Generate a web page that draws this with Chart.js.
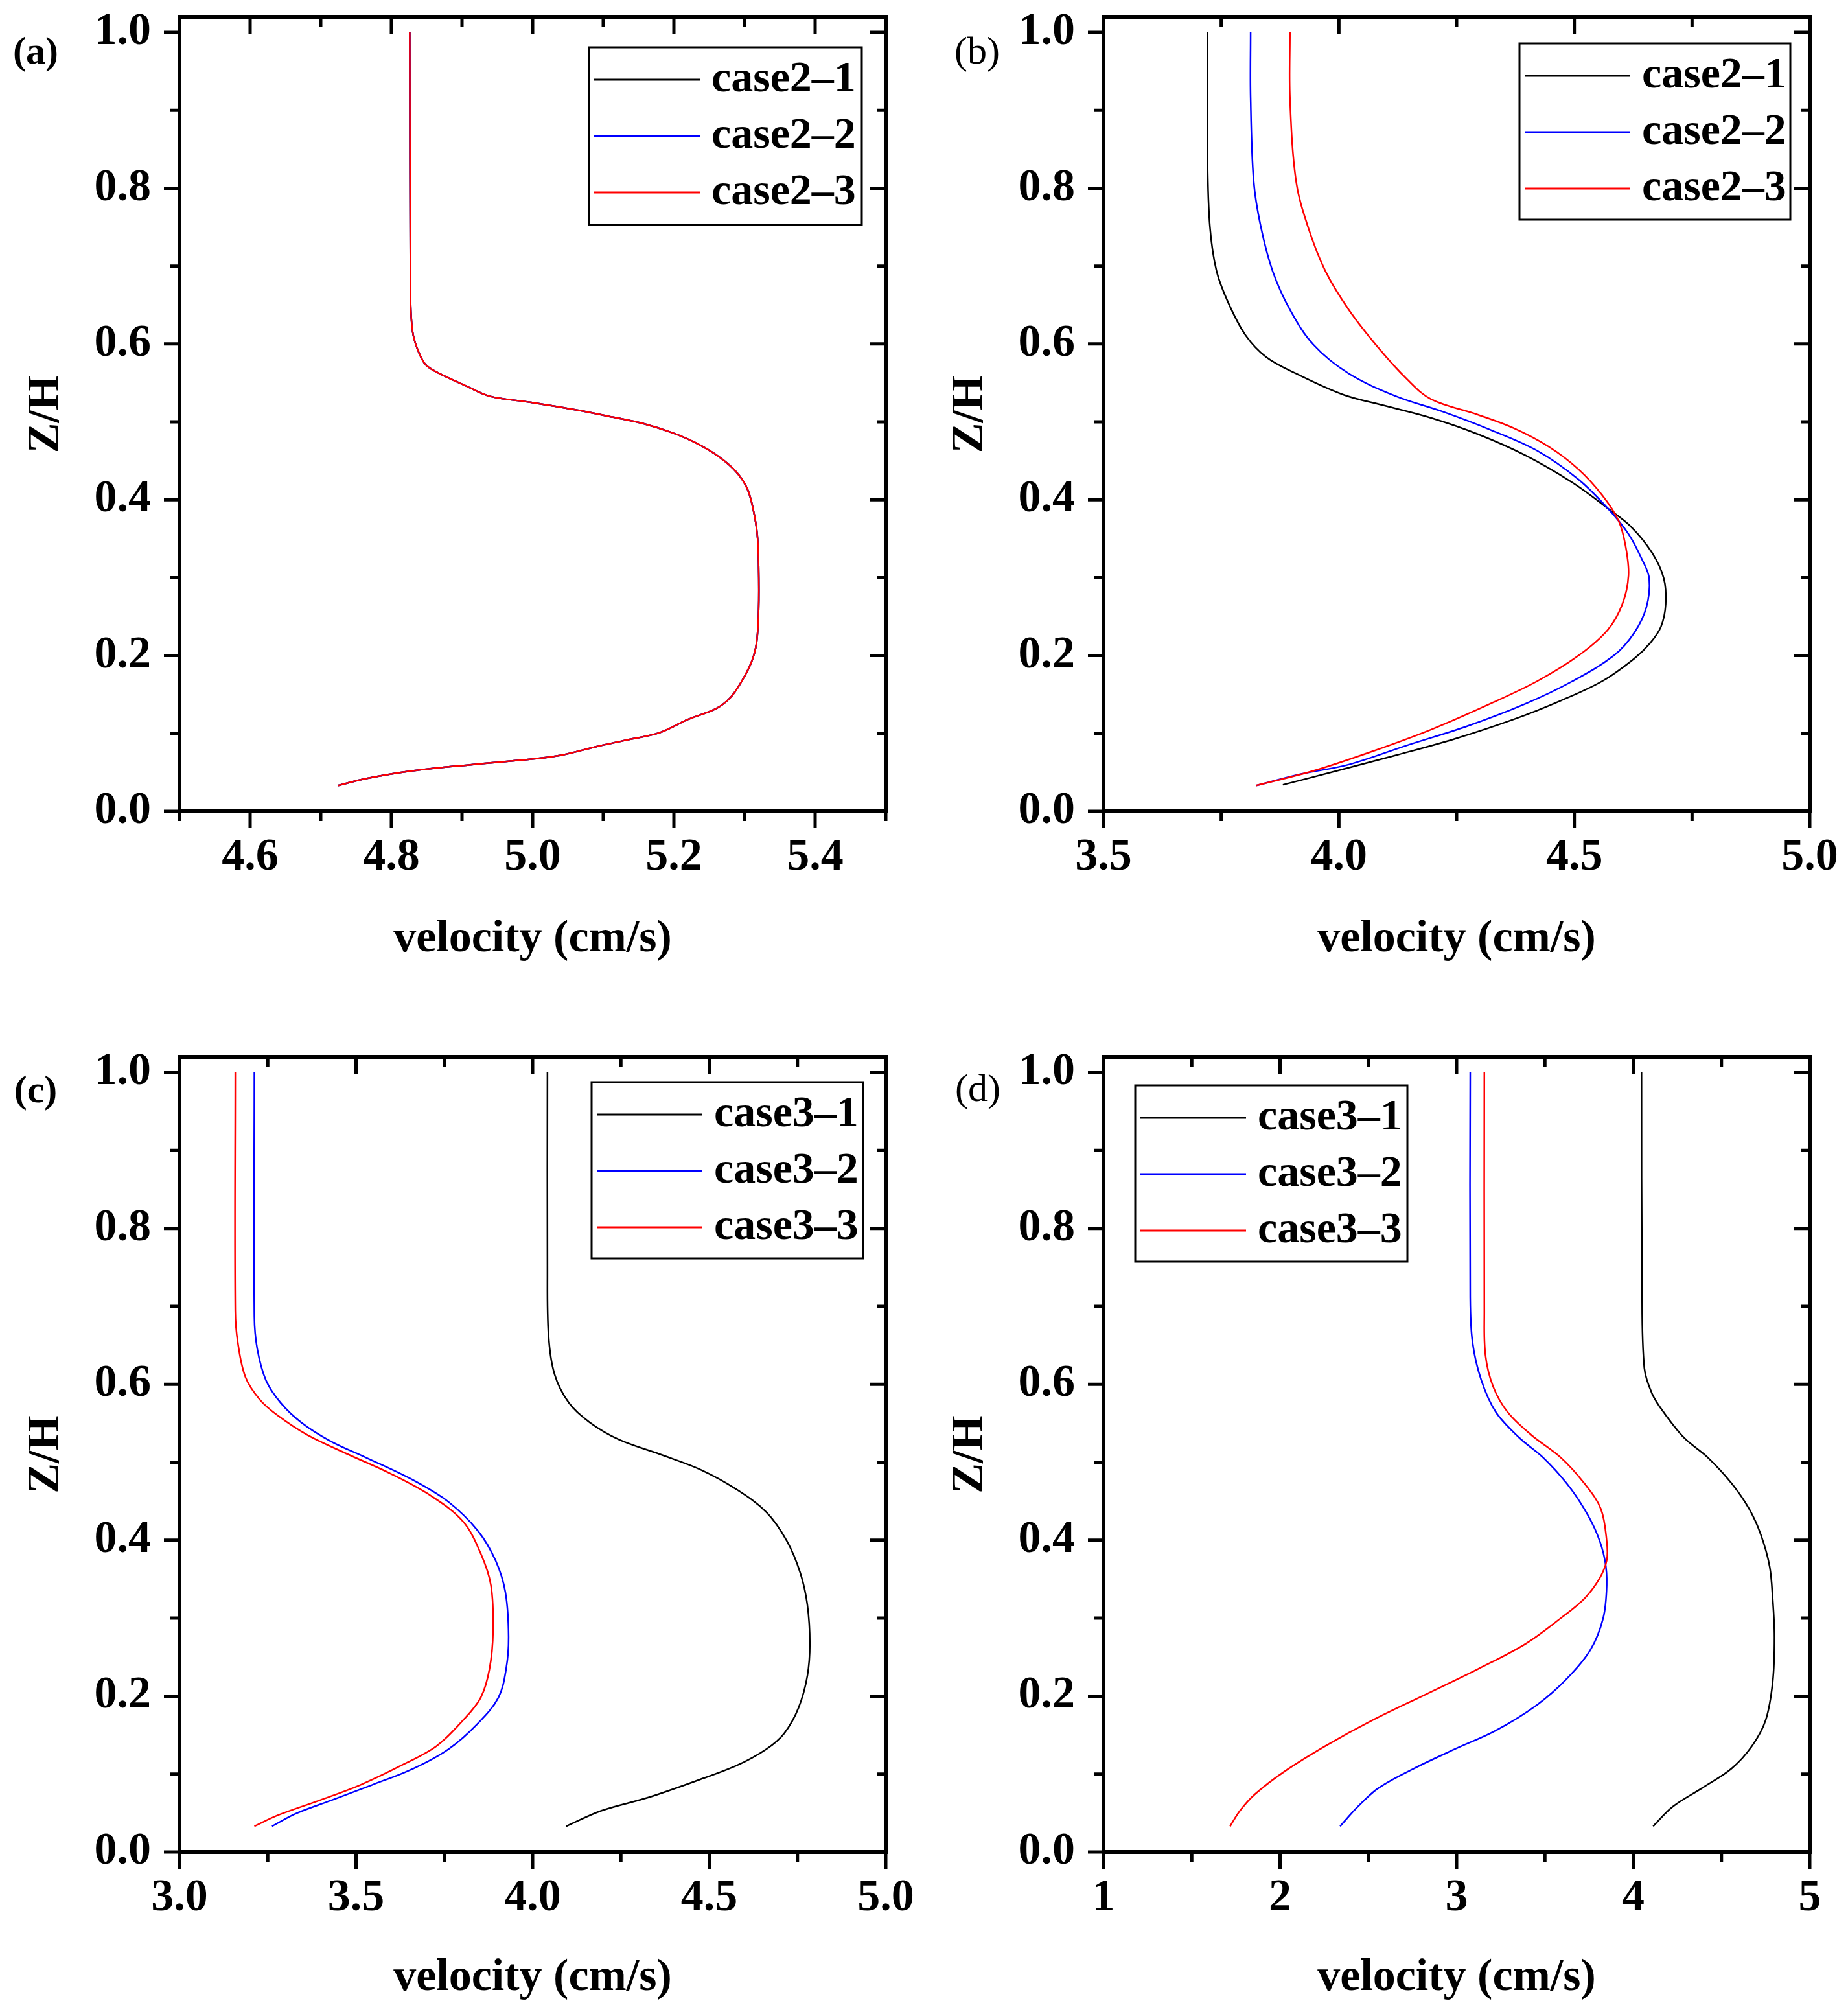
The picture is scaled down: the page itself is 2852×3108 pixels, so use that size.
<!DOCTYPE html>
<html>
<head>
<meta charset="utf-8">
<script src="https://cdn.jsdelivr.net/npm/chart.js@4.4.1/dist/chart.umd.min.js"></script>
<style>
  body { margin: 0; background: #fff; width: 2852px; height: 3108px; position: relative; overflow: hidden; }
  canvas { position: absolute; }
</style>
</head>
<body>
<canvas id="pa" width="1426" height="1554" style="left:0;top:0"></canvas>
<canvas id="pb" width="1426" height="1554" style="left:1426px;top:0"></canvas>
<canvas id="pc" width="1426" height="1554" style="left:0;top:1554px"></canvas>
<canvas id="pd" width="1426" height="1554" style="left:1426px;top:1554px"></canvas>
<script>
// panel (a): the three cases coincide
const aZ = [0.033, 0.042, 0.052, 0.060, 0.067, 0.072, 0.083, 0.091, 0.101, 0.118, 0.132, 0.146, 0.167, 0.192, 0.216, 0.258, 0.315, 0.356, 0.389, 0.414, 0.435, 0.455, 0.473, 0.486, 0.498, 0.506, 0.515, 0.525, 0.533, 0.546, 0.564, 0.574, 0.591, 0.611, 0.636, 0.669, 1.0];
const aV = [4.724, 4.764, 4.83, 4.914, 4.998, 5.04, 5.09, 5.13, 5.18, 5.22, 5.26, 5.28, 5.296, 5.31, 5.317, 5.32, 5.32, 5.318, 5.312, 5.304, 5.289, 5.264, 5.231, 5.198, 5.156, 5.114, 5.064, 4.998, 4.939, 4.906, 4.864, 4.848, 4.838, 4.831, 4.828, 4.827, 4.826];

// panel (b)
const b1Z = [0.034, 0.052, 0.072, 0.093, 0.118, 0.142, 0.167, 0.196, 0.216, 0.237, 0.266, 0.299, 0.332, 0.365, 0.389, 0.422, 0.457, 0.484, 0.505, 0.521, 0.535, 0.562, 0.583, 0.611, 0.653, 0.694, 0.751, 0.834, 1.0];
const b1V = [3.881, 3.996, 4.121, 4.246, 4.371, 4.471, 4.559, 4.627, 4.661, 4.684, 4.694, 4.69, 4.665, 4.621, 4.571, 4.496, 4.396, 4.296, 4.196, 4.096, 4.009, 3.909, 3.846, 3.802, 3.765, 3.74, 3.726, 3.721, 3.721];
const b2Z = [0.033, 0.048, 0.060, 0.085, 0.109, 0.138, 0.167, 0.200, 0.229, 0.262, 0.299, 0.323, 0.356, 0.389, 0.426, 0.463, 0.490, 0.513, 0.533, 0.562, 0.599, 0.644, 0.694, 0.751, 0.809, 0.916, 1.0];
const b2V = [3.824, 3.921, 4.021, 4.146, 4.271, 4.396, 4.496, 4.584, 4.627, 4.653, 4.659, 4.644, 4.615, 4.571, 4.509, 4.421, 4.321, 4.221, 4.121, 4.021, 3.946, 3.896, 3.859, 3.834, 3.819, 3.8125, 3.8125];
const b3Z = [0.033, 0.052, 0.077, 0.105, 0.138, 0.167, 0.200, 0.233, 0.266, 0.303, 0.340, 0.373, 0.406, 0.439, 0.468, 0.492, 0.509, 0.529, 0.554, 0.595, 0.644, 0.694, 0.751, 0.809, 0.916, 1.0];
const b3V = [3.824, 3.946, 4.071, 4.196, 4.321, 4.421, 4.509, 4.571, 4.602, 4.615, 4.609, 4.594, 4.559, 4.509, 4.446, 4.371, 4.296, 4.196, 4.146, 4.084, 4.021, 3.971, 3.934, 3.909, 3.896, 3.896];

// panel (c)
const c1Z = [0.033, 0.053, 0.070, 0.091, 0.111, 0.132, 0.152, 0.185, 0.226, 0.267, 0.317, 0.358, 0.399, 0.436, 0.465, 0.490, 0.510, 0.529, 0.551, 0.576, 0.613, 0.663, 0.753, 1.0];
const c1V = [4.095, 4.195, 4.328, 4.462, 4.578, 4.662, 4.712, 4.753, 4.778, 4.785, 4.778, 4.758, 4.72, 4.662, 4.578, 4.478, 4.362, 4.245, 4.162, 4.103, 4.062, 4.045, 4.042, 4.042];
const c2Z = [0.033, 0.049, 0.066, 0.086, 0.107, 0.132, 0.165, 0.198, 0.235, 0.276, 0.333, 0.374, 0.412, 0.449, 0.477, 0.506, 0.527, 0.551, 0.576, 0.605, 0.646, 0.687, 1.0];
const c2V = [3.262, 3.328, 3.428, 3.545, 3.662, 3.762, 3.845, 3.903, 3.925, 3.932, 3.923, 3.895, 3.845, 3.762, 3.662, 3.528, 3.428, 3.345, 3.287, 3.245, 3.22, 3.212, 3.212];
const c3Z = [0.033, 0.047, 0.066, 0.086, 0.111, 0.136, 0.169, 0.198, 0.235, 0.284, 0.342, 0.383, 0.424, 0.457, 0.486, 0.510, 0.535, 0.560, 0.580, 0.609, 0.654, 0.695, 1.0];
const c3V = [3.212, 3.278, 3.395, 3.512, 3.628, 3.728, 3.803, 3.853, 3.878, 3.888, 3.882, 3.853, 3.803, 3.712, 3.595, 3.478, 3.362, 3.278, 3.228, 3.187, 3.165, 3.158, 3.158];

// panel (d)
const d1Z = [0.033, 0.058, 0.082, 0.107, 0.136, 0.169, 0.218, 0.276, 0.325, 0.366, 0.407, 0.440, 0.473, 0.506, 0.531, 0.564, 0.588, 0.621, 0.728, 1.0];
const d1V = [4.113, 4.223, 4.39, 4.557, 4.673, 4.75, 4.79, 4.8, 4.79, 4.773, 4.723, 4.657, 4.557, 4.423, 4.29, 4.173, 4.107, 4.063, 4.05, 4.047];
const d2Z = [0.033, 0.058, 0.082, 0.107, 0.132, 0.156, 0.189, 0.222, 0.259, 0.300, 0.342, 0.374, 0.407, 0.440, 0.473, 0.506, 0.531, 0.564, 0.605, 0.654, 0.712, 1.0];
const d2V = [2.34, 2.44, 2.557, 2.757, 2.99, 3.223, 3.457, 3.623, 3.757, 3.83, 3.85, 3.84, 3.797, 3.723, 3.623, 3.49, 3.357, 3.223, 3.14, 3.09, 3.077, 3.077];
const d3Z = [0.033, 0.053, 0.074, 0.103, 0.136, 0.169, 0.202, 0.235, 0.267, 0.300, 0.325, 0.350, 0.374, 0.399, 0.440, 0.473, 0.506, 0.535, 0.564, 0.597, 0.638, 0.695, 1.0];
const d3V = [1.717, 1.773, 1.857, 2.023, 2.257, 2.523, 2.823, 3.123, 3.39, 3.59, 3.723, 3.807, 3.85, 3.85, 3.817, 3.723, 3.59, 3.423, 3.29, 3.207, 3.163, 3.157, 3.157];

// tick labels
const yTicks = [0, 0.2, 0.4, 0.6, 0.8, 1.0];
const aXTicks = [4.6, 4.8, 5.0, 5.2, 5.4];
const bXTicks = [3.5, 4.0, 4.5, 5.0];
const cXTicks = [3.0, 3.5, 4.0, 4.5, 5.0];
const dXTicks = [1, 2, 3, 4, 5];

const serif = "'Liberation Serif', 'Times New Roman', serif";
const colors = ['#000000', '#0000ff', '#ff0000'];

// box frame with ticks outside on bottom/left, inside on top/right
const frameTicks = {
  id: 'frameTicks',
  afterDraw(chart, args, o) {
    const { ctx, chartArea: a, scales: { x, y } } = chart;
    ctx.save();
    ctx.strokeStyle = '#000';
    ctx.lineWidth = 5;
    ctx.beginPath();
    const nx = Math.round((x.max - x.min) / o.xMinor);
    for (let i = 0; i <= nx; i++) {
      const v = x.min + i * o.xMinor;
      const px = x.getPixelForValue(v);
      const len = x.ticks.some(t => Math.abs(t.value - v) < 1e-6) ? 26 : 15;
      ctx.moveTo(px, a.bottom); ctx.lineTo(px, a.bottom + len);
      ctx.moveTo(px, a.top); ctx.lineTo(px, a.top + len);
    }
    const ny = Math.floor((y.max - y.min) / 0.1 + 1e-6);
    for (let i = 0; i <= ny; i++) {
      const v = y.min + i * 0.1;
      const py = y.getPixelForValue(v);
      const len = y.ticks.some(t => Math.abs(t.value - v) < 1e-6) ? 24 : 14;
      ctx.moveTo(a.left, py); ctx.lineTo(a.left - len, py);
      ctx.moveTo(a.right, py); ctx.lineTo(a.right - len, py);
    }
    ctx.stroke();
    ctx.lineWidth = 6;
    ctx.strokeRect(a.left, a.top, a.right - a.left, a.bottom - a.top);
    ctx.restore();
  }
};

const boxLegend = {
  id: 'boxLegend',
  afterDraw(chart, args, o) {
    const ctx = chart.ctx;
    ctx.save();
    ctx.fillStyle = '#fff';
    ctx.fillRect(o.x, o.y, o.w, o.h);
    ctx.strokeStyle = '#000';
    ctx.lineWidth = 3;
    ctx.strokeRect(o.x, o.y, o.w, o.h);
    ctx.font = 'bold 68px ' + serif;
    ctx.textBaseline = 'middle';
    ctx.textAlign = 'left';
    chart.data.datasets.forEach((ds, i) => {
      const cy = o.y + 50 + i * 87;
      ctx.strokeStyle = ds.borderColor;
      ctx.lineWidth = 3;
      ctx.beginPath();
      ctx.moveTo(o.x + 8, cy);
      ctx.lineTo(o.x + 171, cy);
      ctx.stroke();
      ctx.fillStyle = '#000';
      ctx.fillText(ds.label, o.x + 189, cy);
    });
    // panel tag
    ctx.font = (o.tagBold ? 'bold ' : '') + '60px ' + serif;
    ctx.textAlign = 'center';
    ctx.fillText(o.tag, o.tagX, o.tagY);
    ctx.restore();
  }
};

function makePanel(id, p) {
  const top = p.bottomRow ? 77 : 26;
  new Chart(document.getElementById(id), {
    type: 'scatter',
    data: {
      datasets: p.series.map((s, i) => ({
        label: s.label,
        data: s.v.map((v, k) => ({ x: v, y: s.z[k] })),
        showLine: true,
        borderColor: colors[i],
        backgroundColor: colors[i],
        borderWidth: 2.5,
        pointRadius: 0,
        tension: 0.35,
        order: 3 - i
      }))
    },
    options: {
      responsive: false,
      animation: false,
      devicePixelRatio: 1,
      layout: { padding: { left: 0, top: top, right: 59, bottom: 0 } },
      plugins: {
        legend: { display: false },
        tooltip: { enabled: false },
        boxLegend: p.legend,
        frameTicks: { xMinor: p.xMinor }
      },
      scales: {
        x: {
          type: 'linear', min: p.xMin, max: p.xMax,
          grid: { display: false, drawTicks: false },
          border: { display: false },
          afterBuildTicks: s => { s.ticks = p.xTicks.map(v => ({ value: v })); },
          afterFit: s => { s.height = p.bottomRow ? 250 : 302; s.paddingLeft = 0; s.paddingRight = 0; },
          ticks: {
            padding: 30, color: '#000', autoSkip: false, maxRotation: 0,
            font: { family: serif, size: 70, weight: 'bold' },
            callback: v => v.toFixed(p.xDigits)
          },
          title: {
            display: true, text: 'velocity (cm/s)', color: '#000',
            font: { family: serif, size: 70, weight: 'bold' },
            padding: { top: 0, bottom: p.bottomRow ? 13 : 62 }
          }
        },
        y: {
          type: 'linear', min: 0, max: 1.02,
          grid: { display: false, drawTicks: false },
          border: { display: false },
          afterBuildTicks: s => { s.ticks = yTicks.map(v => ({ value: v })); },
          afterFit: s => { s.width = 277; s.paddingTop = 0; s.paddingBottom = 0; },
          ticks: {
            padding: 44, color: '#000', autoSkip: false,
            font: { family: serif, size: 70, weight: 'bold' },
            callback: v => v.toFixed(1)
          },
          title: {
            display: true, text: 'Z/H', color: '#000',
            font: { family: serif, size: 70, weight: 'bold' },
            padding: { top: 30, bottom: 0 }
          }
        }
      }
    },
    plugins: [frameTicks, boxLegend]
  });
}

makePanel('pa', {
  xMin: 4.5, xMax: 5.5, xMinor: 0.1, xTicks: aXTicks, xDigits: 1,
  series: [
    { label: 'case2\u20131', v: aV, z: aZ },
    { label: 'case2\u20132', v: aV, z: aZ },
    { label: 'case2\u20133', v: aV, z: aZ }
  ],
  legend: { x: 909, y: 73, w: 421, h: 274, tag: '(a)', tagBold: true, tagX: 55, tagY: 82 }
});

makePanel('pb', {
  xMin: 3.5, xMax: 5.0, xMinor: 0.25, xTicks: bXTicks, xDigits: 1,
  series: [
    { label: 'case2\u20131', v: b1V, z: b1Z },
    { label: 'case2\u20132', v: b2V, z: b2Z },
    { label: 'case2\u20133', v: b3V, z: b3Z }
  ],
  legend: { x: 919, y: 67, w: 418, h: 272, tag: '(b)', tagBold: false, tagX: 82, tagY: 82 }
});

makePanel('pc', {
  bottomRow: true,
  xMin: 3.0, xMax: 5.0, xMinor: 0.25, xTicks: cXTicks, xDigits: 1,
  series: [
    { label: 'case3\u20131', v: c1V, z: c1Z },
    { label: 'case3\u20132', v: c2V, z: c2Z },
    { label: 'case3\u20133', v: c3V, z: c3Z }
  ],
  legend: { x: 913, y: 116, w: 419, h: 272, tag: '(c)', tagBold: true, tagX: 55, tagY: 131 }
});

makePanel('pd', {
  bottomRow: true,
  xMin: 1, xMax: 5, xMinor: 0.5, xTicks: dXTicks, xDigits: 0,
  series: [
    { label: 'case3\u20131', v: d1V, z: d1Z },
    { label: 'case3\u20132', v: d2V, z: d2Z },
    { label: 'case3\u20133', v: d3V, z: d3Z }
  ],
  legend: { x: 326, y: 121, w: 420, h: 272, tag: '(d)', tagBold: false, tagX: 83, tagY: 129 }
});
</script>
</body>
</html>
